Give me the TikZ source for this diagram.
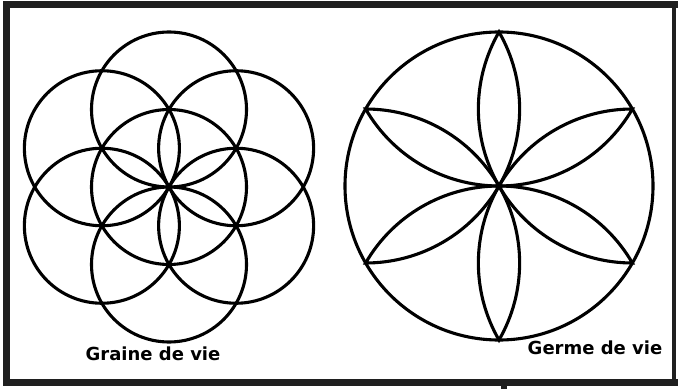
\documentclass[tikz,border=0pt]{standalone}
\usepackage{fontspec}
\newfontfamily\labelfont{DejaVu Sans}
\usetikzlibrary{calc}

\begin{document}
\begin{tikzpicture}[
    x=1pt, y=1pt,
    ringstyle/.style={
        draw=black,
        line width=3.1pt
    },
    framebar/.style={
        fill=black!88
    },
    labelstyle/.style={
        font=\labelfont\bfseries\fontsize{18}{21}\selectfont,
        inner sep=0pt
    }
]

% canvas
\useasboundingbox (0,0) rectangle (678,389);
\fill[white] (0,0) rectangle (678,389);

% parameters
\def\r{77.5}  % seed circles
\def\R{154}   % germ circle

% frame
\fill[framebar] (3,3) rectangle (10,388);    % left
\fill[framebar] (3,381) rectangle (678,388); % top
\fill[framebar] (3,3) rectangle (678,10);    % bottom
\fill[framebar] (672,3) rectangle (676,388); % right
\fill[framebar] (501,0) rectangle (507,3);   % tick

% graine de vie: seven circles
\coordinate (seed) at (169,202);
\draw[ringstyle] (seed) circle (\r);
\foreach \a in {30,90,...,330}{
  \draw[ringstyle] ($(seed)+(\a:\r)$) circle (\r);
}

% germe de vie: circle with six petals
\coordinate (germ) at (499,203);
\draw[ringstyle] (germ) circle (\R);
\foreach \a in {30,90,...,330}{
  \draw[ringstyle, line join=miter] (germ)
    arc[start angle=\a+240, end angle=\a+300, radius=\R]
    arc[start angle=\a+60, end angle=\a+120, radius=\R] -- cycle;
}

% labels
\node[labelstyle] (graine) at (153,35) {Graine de vie};
\node[labelstyle] (germe) at (595,41) {Germe de vie};

\end{tikzpicture}
\end{document}
